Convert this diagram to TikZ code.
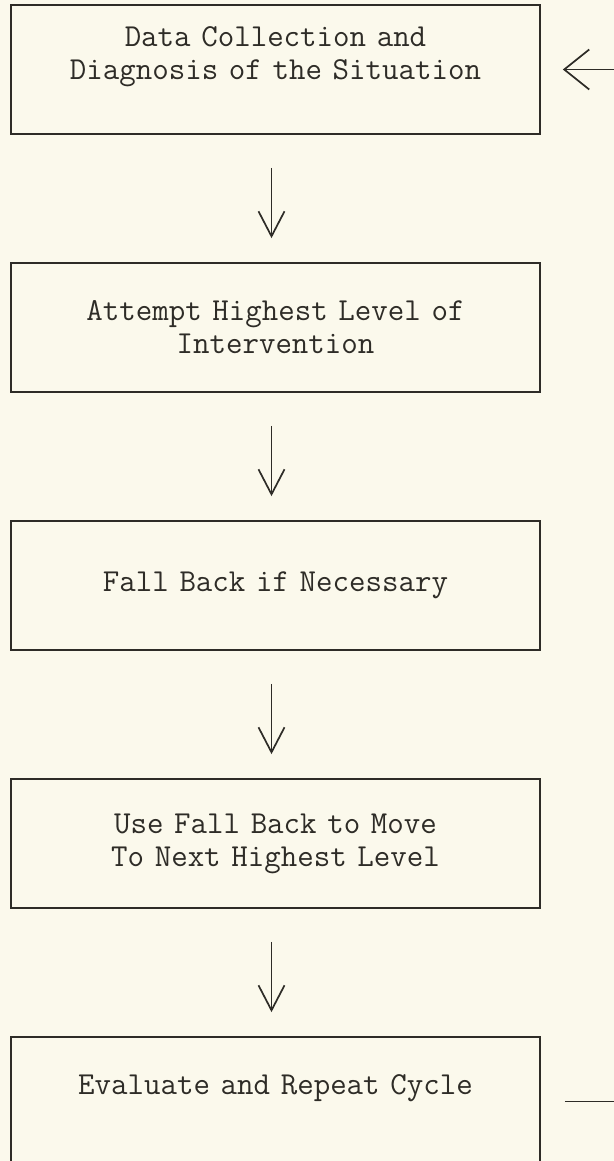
\documentclass[tikz,border=0pt]{standalone}
\usepackage{tikz}
\usetikzlibrary{shapes, arrows.meta, positioning}
\definecolor{paper}{HTML}{FBF9EC}
\definecolor{ink}{HTML}{2E2C27}
\tikzstyle{block}=[draw=ink,rectangle,minimum width=264.5pt,minimum height=64.5pt,text width=255pt,align=center]
\tikzstyle{every node}=[font=\fontsize{16}{16.5}\selectfont\ttfamily,text=ink]

\begin{document}
\begin{tikzpicture}[auto,>={Straight Barb[length=12.5pt,width=13pt]},line width=0.85pt,node distance=129pt]
  \useasboundingbox[fill=paper] (0,0) rectangle (307pt,-580.5pt);
  \coordinate (edge) at (307pt,0);
  \node[block] (collect) at (137.75pt,-34.75pt) {Data Collection and\\Diagnosis of the Situation\\ \mbox{}};
  \node[block, below of=collect] (attempt) {Attempt Highest Level of\\Intervention};
  \node[block, below of=attempt] (fallback) {Fall Back if Necessary};
  \node[block, below of=fallback] (nextlevel) {Use Fall Back to Move\\To Next Highest Level};
  \node[block, below of=nextlevel] (evaluate) {Evaluate and Repeat Cycle\\ \mbox{}};
  \draw[->,draw=ink] ([xshift=-2pt,yshift=-16.5pt]collect.south) -- ([xshift=-2pt,yshift=12pt]attempt.north);
  \draw[->,draw=ink] ([xshift=-2pt,yshift=-16.5pt]attempt.south) -- ([xshift=-2pt,yshift=12pt]fallback.north);
  \draw[->,draw=ink] ([xshift=-2pt,yshift=-16.5pt]fallback.south) -- ([xshift=-2pt,yshift=12pt]nextlevel.north);
  \draw[->,draw=ink] ([xshift=-2pt,yshift=-16.5pt]nextlevel.south) -- ([xshift=-2pt,yshift=12pt]evaluate.north);
  % loop back
  \draw[->,draw=ink,>={Straight Barb[length=12.5pt,width=20pt]}] (collect.east -| edge) -- ([xshift=11pt]collect.east);
  \draw[draw=ink] ([xshift=12pt]evaluate.east) -- (evaluate.east -| edge);
\end{tikzpicture}
\end{document}
